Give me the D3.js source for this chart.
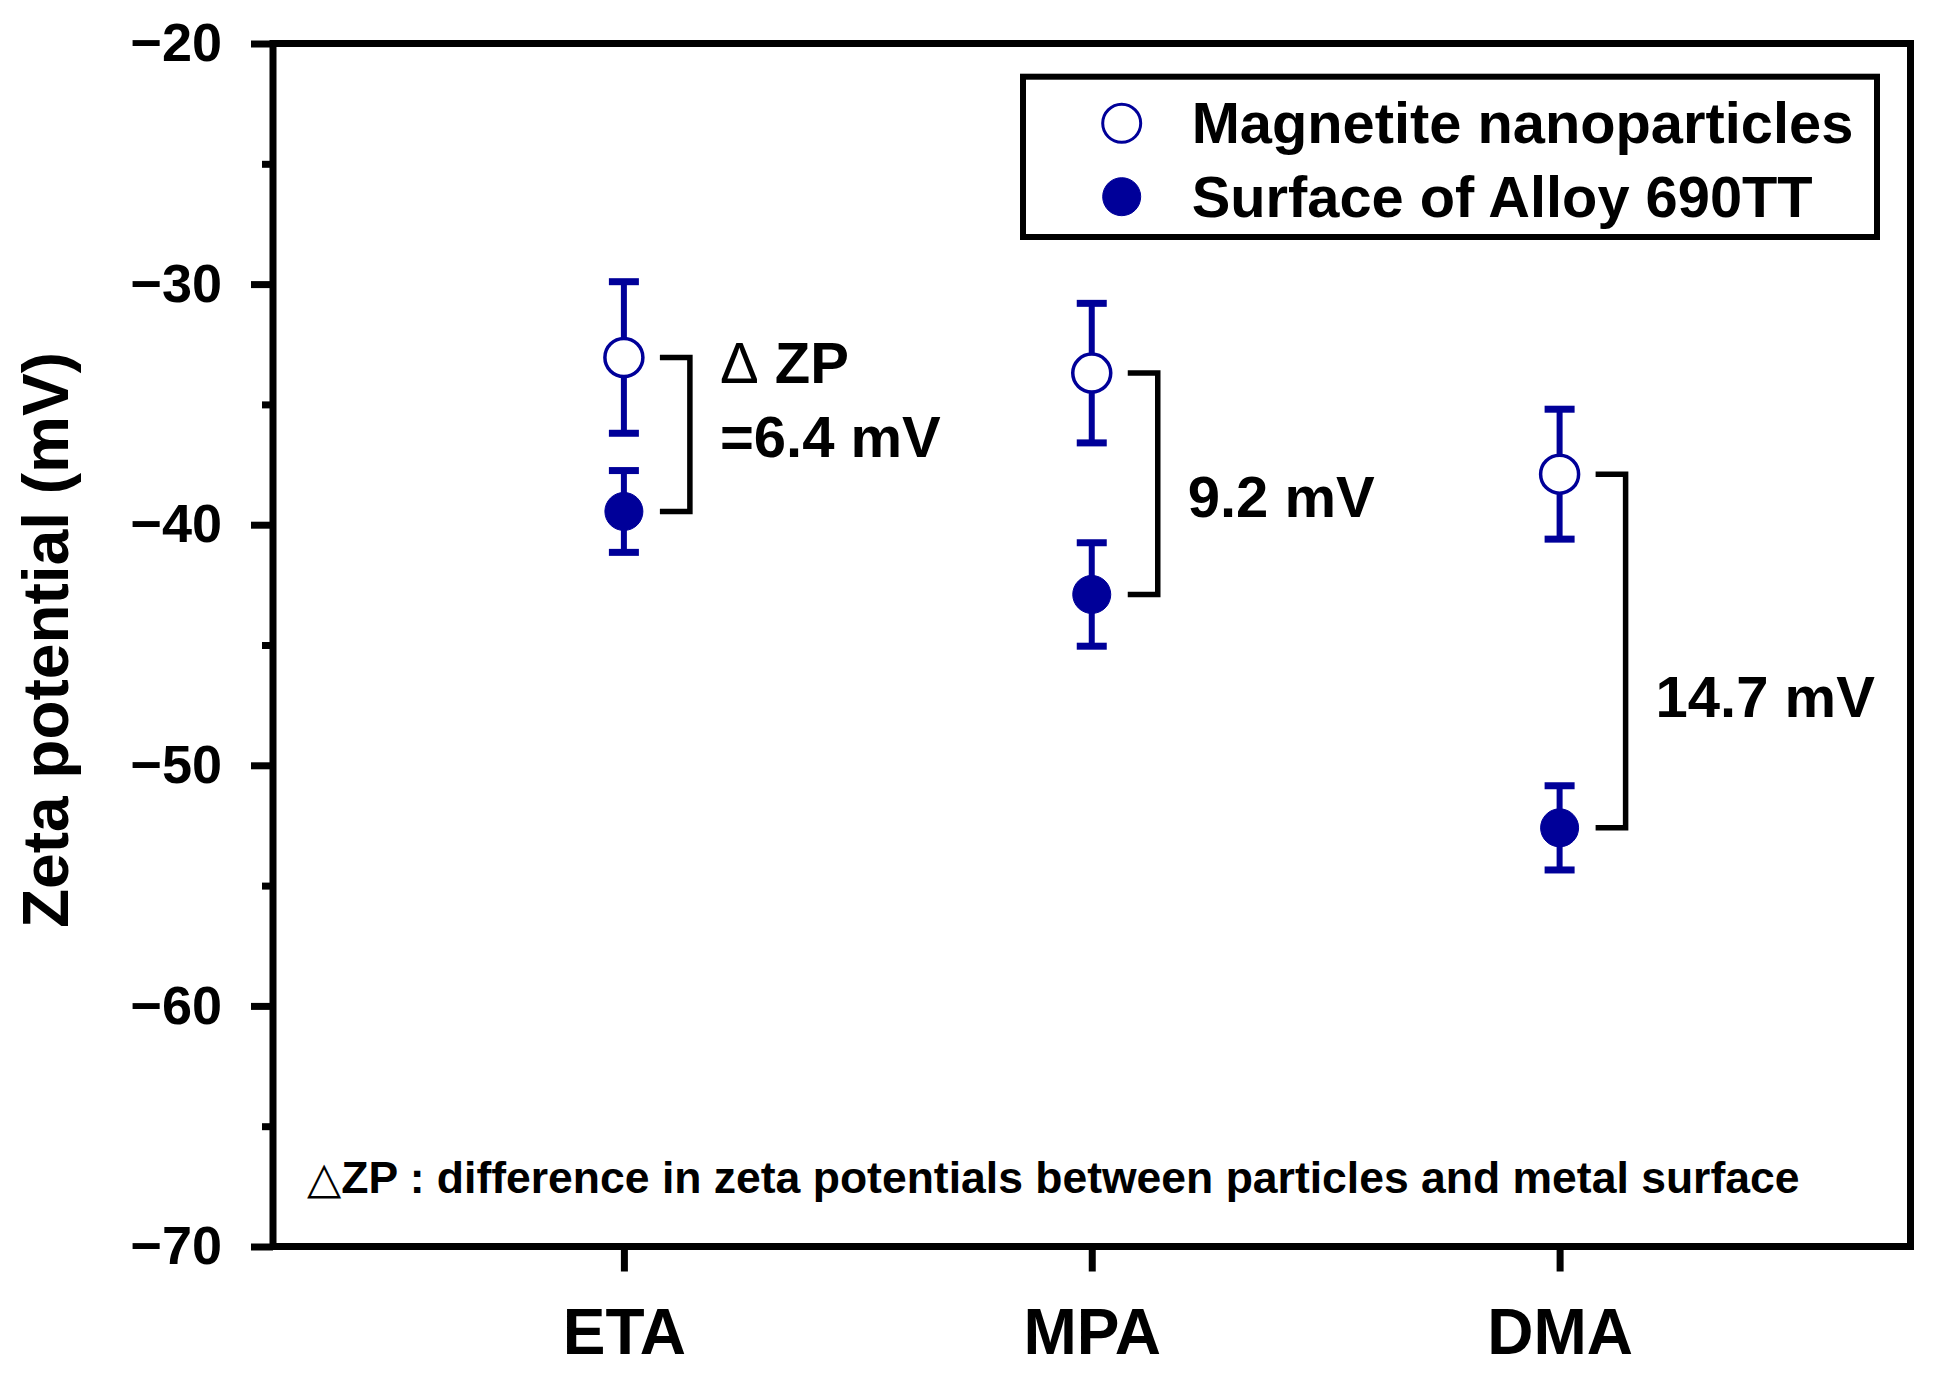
<!DOCTYPE html>
<html><head><meta charset="utf-8">
<script src="https://cdn.jsdelivr.net/npm/d3@7"></script>
<style>
body{margin:0;background:#fff}
svg text{font-family:"Liberation Sans",Arial,Helvetica,sans-serif;font-weight:bold;fill:#000}
</style></head>
<body><svg id="c" width="1935" height="1374"></svg>
<script>
// ---- data ----
const categories = ["ETA", "MPA", "DMA"];
const seriesNames = ["Magnetite nanoparticles", "Surface of Alloy 690TT"];
const magnetiteZP = [-33.05, -33.7, -37.9];
const magnetiteErr = [3.15, 2.9, 2.7];
const alloyZP = [-39.45, -42.9, -52.6];
const alloyErr = [1.7, 2.15, 1.75];
const yTicks = [-70, -60, -50, -40, -30, -20];
const yMinorTicks = [-65, -55, -45, -35, -25];
const deltaLines = [["ZP", "=6.4 mV"], ["9.2 mV"], ["14.7 mV"]];
const deltaLineY = [[-34.1, -37.2], [-39.7], [-48.0]];
const yTitle = "Zeta potential (mV)";
const footnote = "ZP : difference in zeta potentials between particles and metal surface";

// ---- layout ----
const m = {l: 273, t: 43.5, r: 1910.5, b: 1246.5};
const blue = "#000099";
const svg = d3.select("#c");
const x = d3.scalePoint().domain(categories).range([m.l, m.r]).padding(0.75);
const y = d3.scaleLinear().domain([-70, -20]).range([m.b, m.t]);

function styleAxis(g, fs) {
  g.attr("font-size", null).attr("font-family", null);
  g.select(".domain").remove();
  g.selectAll("line").attr("stroke", "#000").attr("stroke-width", 7);
  g.selectAll("text").attr("font-size", fs).attr("fill", "#000");
}

// y axis major
const ya = svg.append("g").attr("transform", `translate(${m.l},0)`)
  .call(d3.axisLeft(y).tickValues(yTicks).tickSize(22).tickSizeOuter(0).tickPadding(29).tickFormat(d3.format("d")));
styleAxis(ya, 54);
// y minor
const ym = svg.append("g").attr("transform", `translate(${m.l},0)`)
  .call(d3.axisLeft(y).tickValues(yMinorTicks).tickSize(11).tickSizeOuter(0).tickFormat(""));
styleAxis(ym, 10);
// x axis
const xa = svg.append("g").attr("transform", `translate(0,${m.b})`)
  .call(d3.axisBottom(x).tickSize(25).tickSizeOuter(0).tickPadding(37));
styleAxis(xa, 64);

// frame
svg.append("rect").attr("x", m.l).attr("y", m.t).attr("width", m.r - m.l).attr("height", m.b - m.t)
  .attr("fill", "none").attr("stroke", "#000").attr("stroke-width", 7);

// y title
svg.append("text").attr("transform", `translate(68,640) rotate(-90)`)
  .attr("text-anchor", "middle").attr("font-size", 64).text(yTitle);

// brackets
const br = svg.append("g");
categories.forEach((c, i) => {
  const cx = x(c);
  br.append("path")
    .attr("d", `M${cx + 36},${y(magnetiteZP[i])}H${cx + 66}V${y(alloyZP[i])}H${cx + 36}`)
    .attr("fill", "none").attr("stroke", "#000").attr("stroke-width", 5.5);
});

// error bars + points
function drawSeries(vals, errs, filled) {
  const g = svg.append("g");
  categories.forEach((c, i) => {
    const cx = x(c), lo = y(vals[i] - errs[i]), hi = y(vals[i] + errs[i]);
    g.append("line").attr("x1", cx).attr("x2", cx).attr("y1", lo).attr("y2", hi)
      .attr("stroke", blue).attr("stroke-width", 6);
    [lo, hi].forEach(yy => g.append("line").attr("x1", cx - 15).attr("x2", cx + 15)
      .attr("y1", yy).attr("y2", yy).attr("stroke", blue).attr("stroke-width", 7));
    g.append("circle").attr("cx", cx).attr("cy", y(vals[i])).attr("r", 19)
      .attr("fill", filled ? blue : "#fff").attr("stroke", blue).attr("stroke-width", filled ? 1 : 3.5);
  });
}
drawSeries(magnetiteZP, magnetiteErr, false);
drawSeries(alloyZP, alloyErr, true);

// delta labels
categories.forEach((c, i) => {
  deltaLines[i].forEach((t, j) => {
    const tx = svg.append("text").attr("x", x(c) + 96).attr("y", y(deltaLineY[i][j])).attr("font-size", 58);
    if (i === 0 && j === 0) {
      tx.append("tspan").attr("font-weight", "normal").text("Δ");
      tx.append("tspan").text(" " + t);
    } else {
      tx.text(t);
    }
  });
});

// legend
const lg = svg.append("g");
lg.append("rect").attr("x", 1023).attr("y", 76.7).attr("width", 854).attr("height", 160.3)
  .attr("fill", "#fff").attr("stroke", "#000").attr("stroke-width", 6);
seriesNames.forEach((n, i) => {
  const cy = 123.3 + i * 73.4;
  lg.append("circle").attr("cx", 1121.7).attr("cy", cy).attr("r", 19)
    .attr("fill", i ? blue : "#fff").attr("stroke", blue).attr("stroke-width", i ? 1 : 3);
  lg.append("text").attr("x", 1191.7).attr("y", cy + 20).attr("font-size", 57.8).text(n);
});

// footnote
const fn = svg.append("text").attr("x", 307).attr("y", 1193).attr("font-size", 44.5);
fn.append("tspan").attr("font-weight", "normal").attr("font-family", "DejaVu Sans").text("△");
fn.append("tspan").text(footnote);
</script>
</body></html>
